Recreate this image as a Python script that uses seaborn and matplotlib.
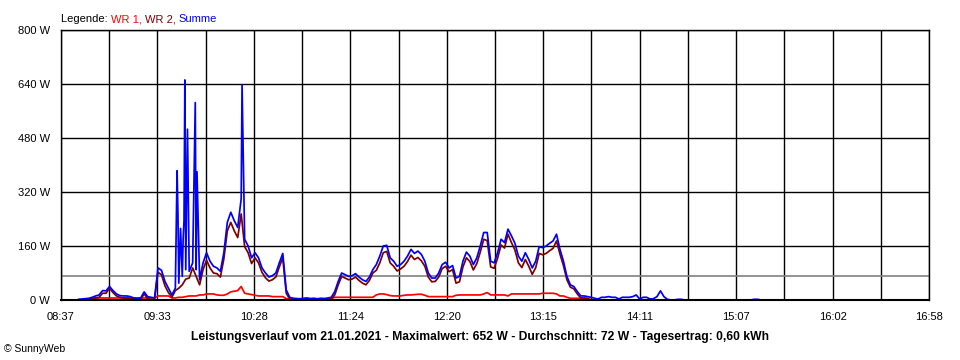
import numpy as np
import pandas as pd
import matplotlib
matplotlib.use("Agg")
import matplotlib.pyplot as plt
import seaborn as sns
from matplotlib.offsetbox import TextArea, HPacker, AnchoredOffsetbox

# ---------------- data (2-minute samples starting 08:47) ----------------
start_min = 8 * 60 + 47
step_min = 2

summe = [
    2, 3, 4, 5, 8, 12, 15, 28, 27, 40,
    28, 18, 13, 12, 12, 10, 6, 5, 6, 24,
    10, 8, 6, 95, 88, 55, 35, 15, 35, 50,
    70, 90, 85, 110, 90, 60, 110, 140, 115, 100,
    95, 85, 140, 230, 260, 235, 215, 300, 180, 160,
    125, 140, 125, 95, 80, 68, 72, 80, 110, 138,
    30, 8, 5, 4, 3, 5, 6, 4, 5, 3,
    5, 4, 6, 8, 25, 55, 80, 75, 70, 72,
    78, 68, 60, 55, 68, 90, 105, 130, 160, 162,
    125, 115, 100, 105, 115, 130, 150, 138, 145, 135,
    115, 80, 65, 65, 80, 105, 112, 95, 102, 65,
    70, 115, 142, 130, 105, 125, 160, 200, 200, 115,
    110, 140, 180, 170, 210, 190, 168, 130, 115, 140,
    120, 95, 115, 158, 155, 160, 168, 175, 195, 150,
    115, 70, 45, 40, 25, 12, 12, 10, 8, 5,
    3, 8, 8, 10, 8, 8, 3, 8, 8, 8,
    10, 15, 3, 8, 8, 3, 4, 10, 27, 10,
    2, 0, 0, 2, 2, 0, 0, 0, 0, 0,
    0, 0, 0, 0, 0, 0, 0, 0, 0, 0,
    0, 0, 0, 0, 0, 2, 2, 0,
]

wr1 = [
    0, 0, 0, 0, 3, 6, 6, 6, 6, 6,
    6, 6, 6, 6, 6, 6, 6, 6, 6, 6,
    6, 6, 6, 12, 12, 12, 12, 6, 6, 8,
    8, 10, 12, 12, 12, 15, 15, 18, 18, 18,
    15, 14, 14, 18, 24, 26, 28, 40, 20, 18,
    16, 14, 12, 12, 12, 12, 10, 10, 10, 10,
    4, 4, 4, 4, 4, 4, 4, 4, 4, 4,
    4, 4, 4, 4, 8, 8, 8, 8, 8, 8,
    8, 8, 8, 8, 8, 8, 15, 18, 18, 16,
    13, 12, 12, 12, 14, 15, 15, 16, 17, 17,
    14, 10, 10, 10, 10, 10, 10, 10, 10, 14,
    15, 15, 15, 15, 15, 15, 15, 18, 22, 15,
    15, 15, 15, 15, 12, 18, 18, 18, 18, 18,
    18, 18, 18, 18, 20, 20, 20, 20, 18, 12,
    12, 8, 5, 5, 5, 5, 5, 3, 0, 0,
]

wr2 = [
    0, 0, 2, 3, 5, 6, 8, 20, 20, 35,
    22, 12, 8, 6, 6, 4, 2, 2, 2, 18,
    4, 2, 2, 82, 75, 42, 22, 8, 28, 35,
    45, 62, 65, 95, 70, 45, 90, 118, 95, 80,
    78, 68, 122, 205, 230, 205, 185, 255, 158, 140,
    108, 125, 110, 82, 66, 56, 60, 68, 98, 125,
    20, 3, 1, 0, 0, 1, 2, 0, 1, 0,
    1, 0, 2, 3, 15, 45, 70, 65, 60, 62,
    68, 58, 50, 45, 58, 80, 88, 110, 140, 144,
    110, 100, 86, 92, 100, 114, 133, 120, 126, 116,
    100, 68, 54, 55, 68, 93, 100, 84, 90, 50,
    54, 98, 125, 114, 89, 108, 142, 180, 176, 98,
    94, 124, 163, 154, 195, 170, 148, 110, 96, 120,
    100, 76, 96, 138, 134, 138, 146, 153, 175, 136,
    102, 60, 38, 33, 18, 6, 6, 5, 0, 0,
]

# short spikes of the sum (minutes since midnight, watts)
spike_minutes = [584.0, 584.5, 586.0, 587.5, 588.0, 588.5, 590.0, 594.5, 595.5, 621.5]
spike_watts = [383, 255, 212, 180, 235, 652, 506, 585, 380, 637]

average_w = 72
y_ticks = [0, 160, 320, 480, 640, 800]
x_tick_labels = ["08:37", "09:33", "10:28", "11:24", "12:20",
                 "13:15", "14:11", "15:07", "16:02", "16:58"]
x_start = 8 * 60 + 37
x_end = 16 * 60 + 58

title = ("Leistungsverlauf vom 21.01.2021 - Maximalwert: 652 W - "
         "Durchschnitt: 72 W - Tagesertrag: 0,60 kWh")

# ---------------- build table ----------------
def series_frame(vals, name):
    t = start_min + step_min * np.arange(len(vals))
    return pd.DataFrame({"t": t.astype(float), "W": vals, "s": name})

df_sum = pd.concat([series_frame(summe, "Summe"),
                    pd.DataFrame({"t": spike_minutes, "W": spike_watts, "s": "Summe"})])
df_sum = df_sum.sort_values("t", kind="stable")
df = pd.concat([series_frame(wr1, "WR 1"), series_frame(wr2, "WR 2"), df_sum],
               ignore_index=True)

colors = {"WR 1": "#ff0000", "WR 2": "#800000", "Summe": "#0000ff"}

# ---------------- plot ----------------
sns.set_style("white")
plt.rcParams["font.family"] = ["Liberation Sans", "DejaVu Sans"]

fig = plt.figure(figsize=(9.6, 3.6), dpi=100)
ax = fig.add_axes([61 / 960, 1 - 300 / 360, 868 / 960, 270 / 360])

for name in ["WR 1", "WR 2", "Summe"]:
    sub = df[df["s"] == name]
    sns.lineplot(data=sub, x="t", y="W", ax=ax, color=colors[name],
                 estimator=None, sort=False,
                 linewidth=1.25, zorder=3, legend=False)

ax.axhline(average_w, color="#808080", linewidth=1.2, zorder=2)

ax.set_xlim(x_start, x_end)
ax.set_ylim(0, 800)

n_grid = 18
grid_pos = [x_start + i * (x_end - x_start) / n_grid for i in range(n_grid + 1)]
ax.set_xticks(grid_pos)
ax.set_xticklabels([x_tick_labels[i // 2] if i % 2 == 0 else "" for i in range(n_grid + 1)])
ax.set_yticks(y_ticks)
ax.set_yticklabels([f"{v} W" for v in y_ticks])

ax.grid(True, color="black", linewidth=1.0, zorder=1)
ax.set_axisbelow(True)
for sp in ax.spines.values():
    sp.set_color("black")
    sp.set_linewidth(1.0)
    sp.set_zorder(5)
ax.spines["bottom"].set_linewidth(1.5)

ax.tick_params(axis="both", which="both", direction="out", length=5,
               width=1.0, color="black", labelsize=8, labelcolor="black", pad=3)
ax.tick_params(axis="x", pad=4)
ax.set_xlabel("")
ax.set_ylabel("")

fig.text(480 / 960, 1 - 337 / 360, title, ha="center", va="center",
         fontsize=8.7, fontweight="bold", color="black")
fig.text(4 / 960, 1 - 349 / 360, "\u00a9 SunnyWeb", ha="left", va="center",
         fontsize=7.5, color="black")

parts = [("Legende: ", "black"), ("WR 1, ", colors["WR 1"]),
         ("WR 2, ", colors["WR 2"]), ("Summe", colors["Summe"])]
boxes = [TextArea(s, textprops=dict(color=c, size=8)) for s, c in parts]
pack = HPacker(children=boxes, align="baseline", pad=0, sep=0)
anch = AnchoredOffsetbox(loc="lower left", child=pack, pad=0, borderpad=0,
                         frameon=False, bbox_to_anchor=(61 / 960, 1 - 24 / 360),
                         bbox_transform=fig.transFigure)
fig.add_artist(anch)

fig.savefig("out.png", dpi=100, facecolor="white")
